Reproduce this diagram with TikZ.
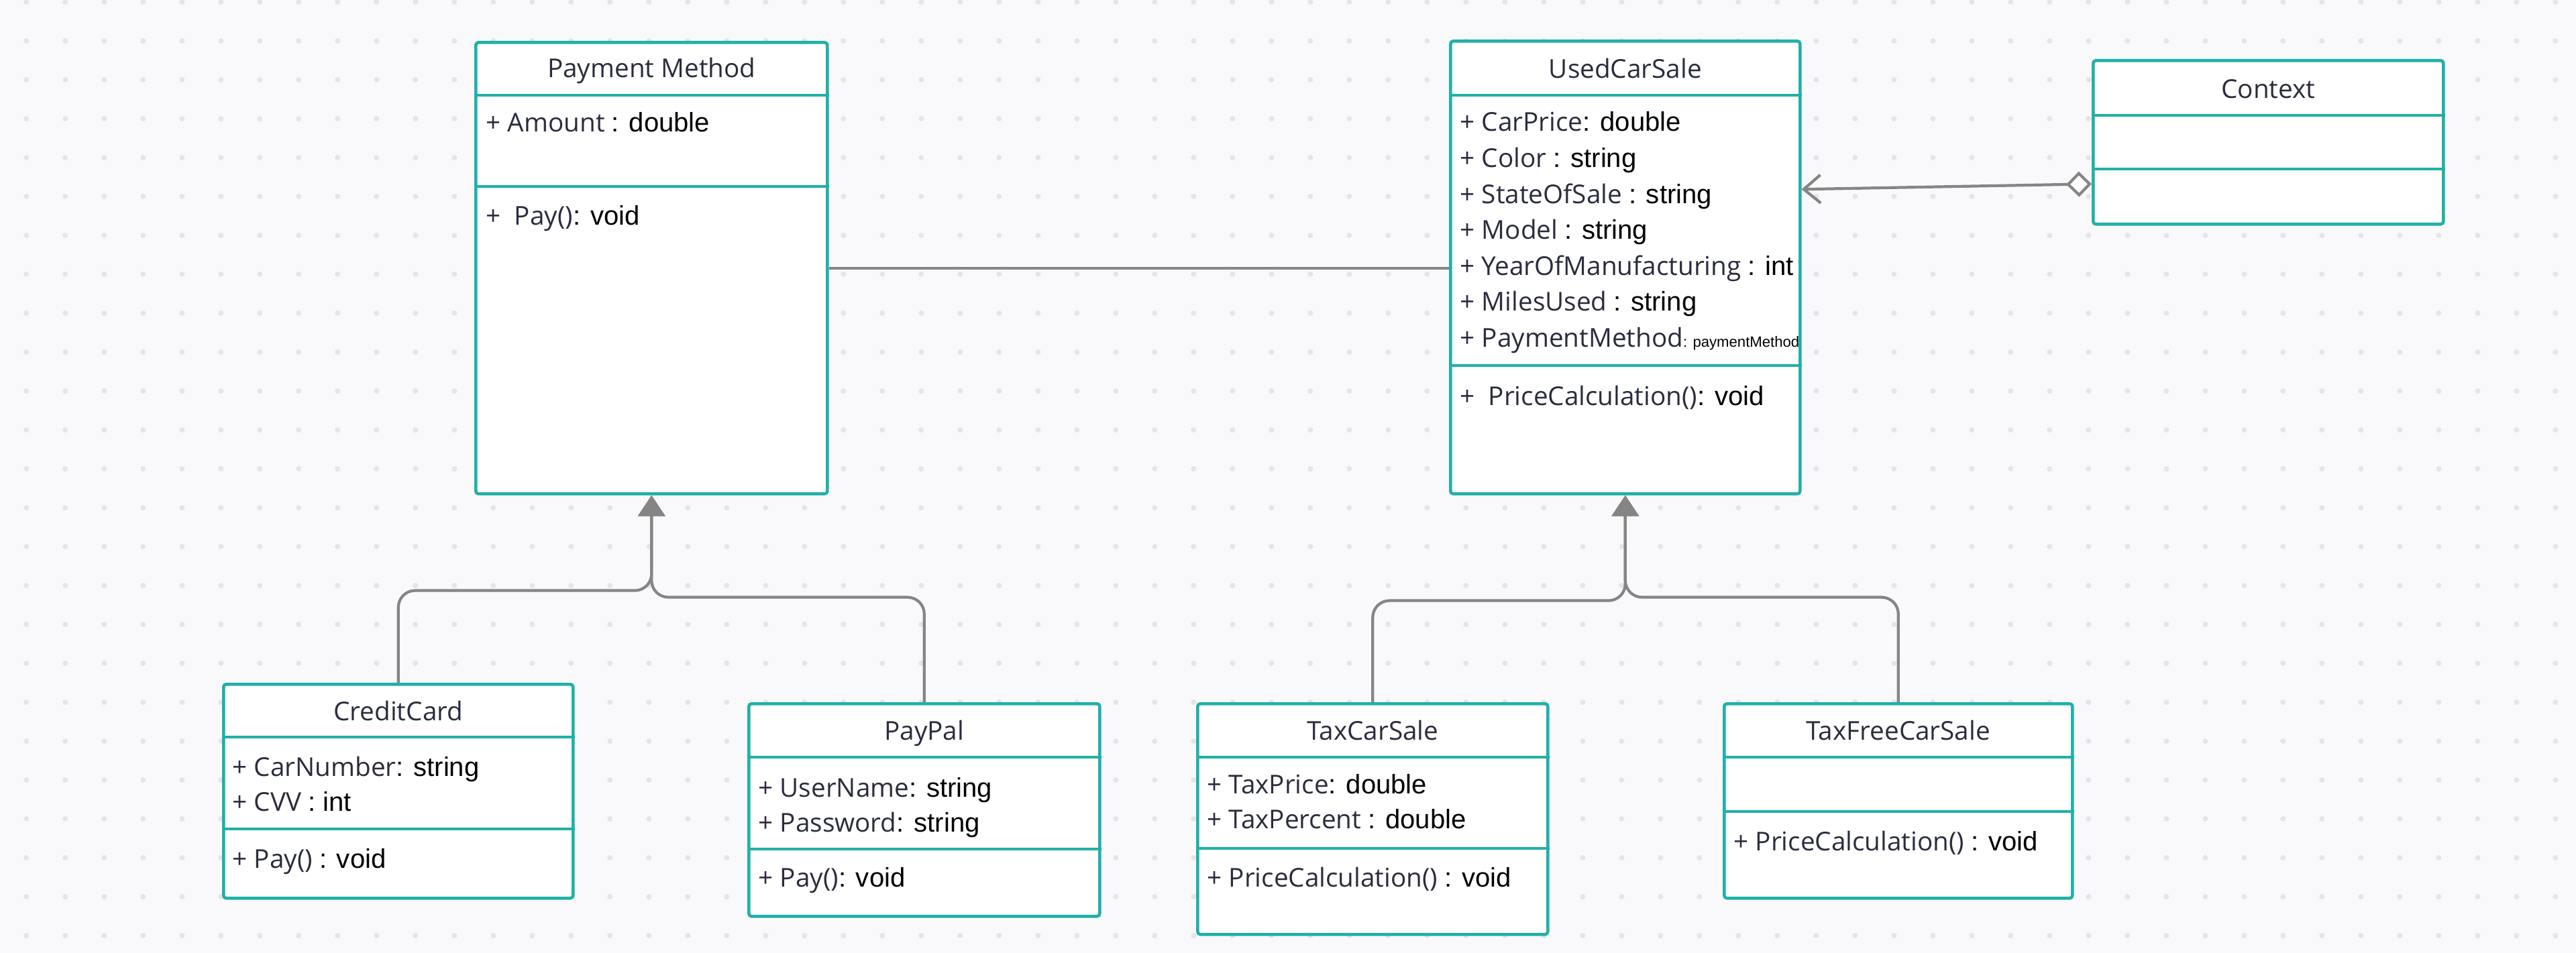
\documentclass[tikz,border=0pt]{standalone}
\usepackage{fontspec}
\setmainfont{Open Sans}
\newfontfamily\typefont{Liberation Sans}
\usepackage{tikz}
\usetikzlibrary{positioning, arrows.meta}

\definecolor{umlteal}{RGB}{32,176,168}
\definecolor{umlgray}{RGB}{133,133,133}
\definecolor{umlname}{RGB}{42,44,62}
\definecolor{canvas}{RGB}{249,249,251}
\definecolor{griddot}{RGB}{228,228,233}

\newcommand{\tp}[1]{{\typefont\fontsize{11.4}{13}\selectfont\color{black}#1}}
\newcommand{\tpsmall}[1]{{\typefont\fontsize{6.3}{7}\selectfont\color{black}#1}}

\begin{document}
\begin{tikzpicture}
\tikzstyle{classbox} = [draw=umlteal, line width=1.3pt, fill=white, rounded corners=0.04cm, anchor=north west, inner sep=0pt]
\tikzstyle{sepline} = [draw=umlteal, line width=1.3pt]
\tikzstyle{classname} = [text=umlname, font=\fontsize{11}{13}\selectfont, inner sep=0pt, text height=0.3cm, text depth=0.08cm]
\tikzstyle{member} = [classname, anchor=west]
\tikzstyle{inherit} = [-{Triangle[width=0.4cm,length=0.31cm]}, draw=umlgray, line width=1.2pt, rounded corners=0.25cm]
\tikzstyle{assoc} = [draw=umlgray, line width=1.2pt]

% Фон с точками
\useasboundingbox (0,0) rectangle (38.4,-14.21);
\fill[canvas] (0,0) rectangle (38.4,-14.21);
\foreach \i in {0,...,65}
  \foreach \j in {0,...,24}
    \fill[griddot] (0.393+0.58*\i,-0.03-0.58*\j) circle (0.04);

% Классы
\node[classbox, minimum width=5.24cm, minimum height=6.73cm] (pm) at (7.07,-0.61) {};
\node[classbox, minimum width=5.21cm, minimum height=6.75cm] (ucs) at (21.60,-0.59) {};
\node[classbox, minimum width=5.22cm, minimum height=2.44cm] (ctx) at (31.18,-0.88) {};
\node[classbox, minimum width=5.21cm, minimum height=3.19cm] (cc) at (3.31,-10.18) {};
\node[classbox, minimum width=5.23cm, minimum height=3.17cm] (pp) at (11.14,-10.47) {};
\node[classbox, minimum width=5.22cm, minimum height=3.44cm] (tcs) at (17.83,-10.47) {};
\node[classbox, minimum width=5.19cm, minimum height=2.90cm] (tfs) at (25.68,-10.47) {};

% Разделители
\draw[sepline] ([yshift=-0.81cm]pm.north west) -- ([yshift=-0.81cm]pm.north east);
\draw[sepline] ([yshift=-2.17cm]pm.north west) -- ([yshift=-2.17cm]pm.north east);
\draw[sepline] ([yshift=-0.83cm]ucs.north west) -- ([yshift=-0.83cm]ucs.north east);
\draw[sepline] ([yshift=-4.86cm]ucs.north west) -- ([yshift=-4.86cm]ucs.north east);
\draw[sepline] ([yshift=-0.84cm]ctx.north west) -- ([yshift=-0.84cm]ctx.north east);
\draw[sepline] ([yshift=-1.64cm]ctx.north west) -- ([yshift=-1.64cm]ctx.north east);
\draw[sepline] ([yshift=-0.81cm]cc.north west) -- ([yshift=-0.81cm]cc.north east);
\draw[sepline] ([yshift=-2.18cm]cc.north west) -- ([yshift=-2.18cm]cc.north east);
\draw[sepline] ([yshift=-0.82cm]pp.north west) -- ([yshift=-0.82cm]pp.north east);
\draw[sepline] ([yshift=-2.19cm]pp.north west) -- ([yshift=-2.19cm]pp.north east);
\draw[sepline] ([yshift=-0.82cm]tcs.north west) -- ([yshift=-0.82cm]tcs.north east);
\draw[sepline] ([yshift=-2.18cm]tcs.north west) -- ([yshift=-2.18cm]tcs.north east);
\draw[sepline] ([yshift=-0.82cm]tfs.north west) -- ([yshift=-0.82cm]tfs.north east);
\draw[sepline] ([yshift=-1.63cm]tfs.north west) -- ([yshift=-1.63cm]tfs.north east);

% Тексты
\node[classname] (pmtitle) at ([yshift=-0.44cm]pm.north) {Payment Method};
\node[member] (pmamount) at ([xshift=0.17cm,yshift=-1.25cm]pm.north west) {+ Amount \tp{: double}};
\node[member] (pmpay) at ([xshift=0.17cm,yshift=-2.64cm]pm.north west) {+\ \ Pay()\tp{: void}};

\node[classname] (ucstitle) at ([yshift=-0.47cm]ucs.north) {UsedCarSale};
\node[member] (ucsprice) at ([xshift=0.16cm,yshift=-1.26cm]ucs.north west) {+ CarPrice\tp{: double}};
\node[member] (ucscolor) at ([xshift=0.16cm,yshift=-1.80cm]ucs.north west) {+ Color \tp{: string}};
\node[member] (ucsstate) at ([xshift=0.16cm,yshift=-2.34cm]ucs.north west) {+ StateOfSale \tp{: string}};
\node[member] (ucsmodel) at ([xshift=0.16cm,yshift=-2.87cm]ucs.north west) {+ Model \tp{: string}};
\node[member] (ucsyear) at ([xshift=0.16cm,yshift=-3.41cm]ucs.north west) {+ YearOfManufacturing \tp{: int}};
\node[member] (ucsmiles) at ([xshift=0.16cm,yshift=-3.94cm]ucs.north west) {+ MilesUsed \tp{: string}};
\node[member] (ucsmethod) at ([xshift=0.16cm,yshift=-4.48cm]ucs.north west) {+ PaymentMethod\tpsmall{: paymentMethod}};
\node[member] (ucscalc) at ([xshift=0.16cm,yshift=-5.34cm]ucs.north west) {+\ \ PriceCalculation()\tp{: void}};

\node[classname] (ctxtitle) at ([yshift=-0.48cm]ctx.north) {Context};

\node[classname] (cctitle) at ([yshift=-0.45cm]cc.north) {CreditCard};
\node[member] (ccnumber) at ([xshift=0.15cm,yshift=-1.28cm]cc.north west) {+ CarNumber\tp{: string}};
\node[member] (cccvv) at ([xshift=0.15cm,yshift=-1.80cm]cc.north west) {+ CVV \tp{: int}};
\node[member] (ccpay) at ([xshift=0.15cm,yshift=-2.65cm]cc.north west) {+ Pay() \tp{: void}};

\node[classname] (pptitle) at ([yshift=-0.45cm]pp.north) {PayPal};
\node[member] (ppuser) at ([xshift=0.16cm,yshift=-1.30cm]pp.north west) {+ UserName\tp{: string}};
\node[member] (pppass) at ([xshift=0.16cm,yshift=-1.82cm]pp.north west) {+ Password\tp{: string}};
\node[member] (pppay) at ([xshift=0.16cm,yshift=-2.64cm]pp.north west) {+ Pay()\tp{: void}};

\node[classname] (tcstitle) at ([yshift=-0.45cm]tcs.north) {TaxCarSale};
\node[member] (tcsprice) at ([xshift=0.16cm,yshift=-1.25cm]tcs.north west) {+ TaxPrice\tp{: double}};
\node[member] (tcspercent) at ([xshift=0.16cm,yshift=-1.77cm]tcs.north west) {+ TaxPercent \tp{: double}};
\node[member] (tcscalc) at ([xshift=0.16cm,yshift=-2.64cm]tcs.north west) {+ PriceCalculation() \tp{: void}};

\node[classname] (tfstitle) at ([yshift=-0.45cm]tfs.north) {TaxFreeCarSale};
\node[member] (tfscalc) at ([xshift=0.16cm,yshift=-2.10cm]tfs.north west) {+ PriceCalculation() \tp{: void}};

% Связи
\draw[assoc] (pm.east) -- (pm.east -| ucs.west);
\draw[assoc, {Diamond[fill=white,length=0.38cm,width=0.38cm]}-{Straight Barb[length=0.25cm,width=0.42cm]}] ([yshift=-0.62cm]ctx.west) -- ([yshift=1.165cm]ucs.east);

% Наследование
\draw[inherit] (cc.north) |- ([yshift=-1.42cm]pm.south) -- (pm.south);
\draw[inherit] (pp.north) |- ([yshift=-1.52cm]pm.south) -- (pm.south);
\draw[inherit] (tcs.north) |- ([yshift=-1.57cm]ucs.south) -- (ucs.south);
\draw[inherit] (tfs.north) |- ([yshift=-1.52cm]ucs.south) -- (ucs.south);

\end{tikzpicture}
\end{document}
